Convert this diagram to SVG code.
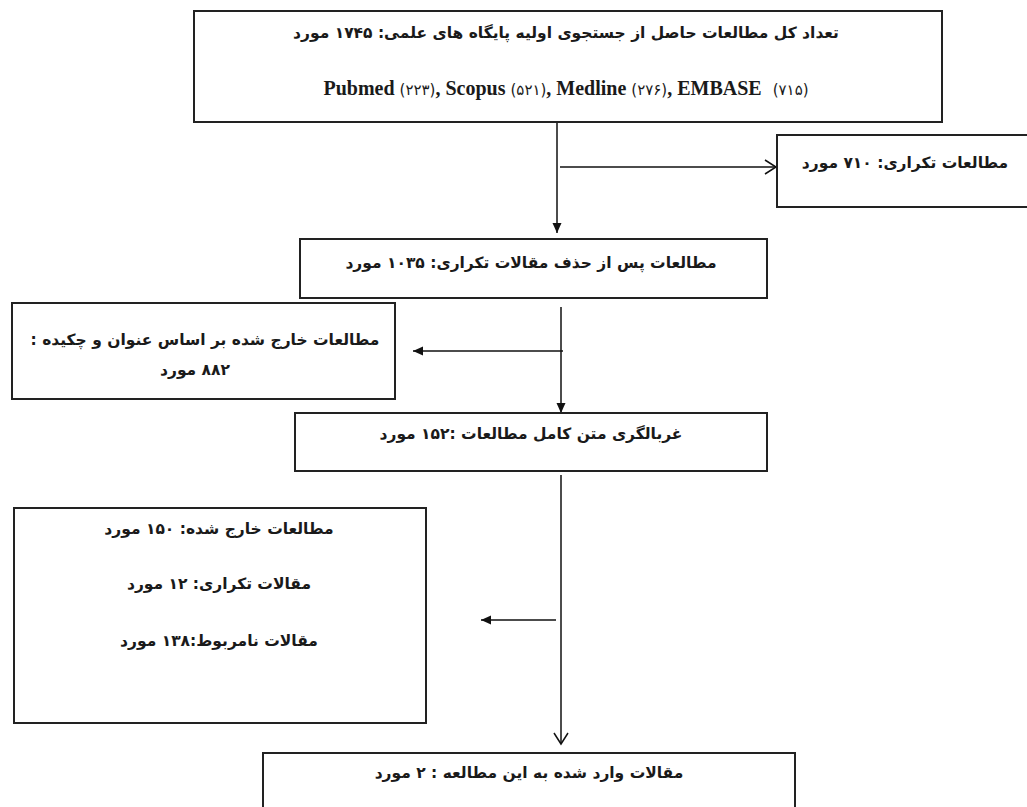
<svg xmlns="http://www.w3.org/2000/svg" width="1027" height="807" viewBox="0 0 1027 807">
<defs>
<style>
.box{fill:#fff;stroke:#222;stroke-width:2}
.fa{font-family:"DejaVu Sans",sans-serif;font-weight:bold;font-size:15.5px;fill:#1a1a1a;text-anchor:middle}
.en{font-family:"Liberation Serif",serif;font-weight:bold;font-size:20px;fill:#1a1a1a;text-anchor:middle}
.dg{font-family:"DejaVu Sans",sans-serif;font-weight:normal;font-size:15px}
.ln{stroke:#111;stroke-width:1.5;fill:none}
</style>
<marker id="fill" markerWidth="10" markerHeight="12" refX="10" refY="5" orient="auto" markerUnits="userSpaceOnUse">
<path d="M0,0.5 L10,5 L0,9.5 Z" fill="#111"/>
</marker>
<marker id="open" markerWidth="14" markerHeight="16" refX="12" refY="8" orient="auto" markerUnits="userSpaceOnUse">
<path d="M1,1 L12,8 L1,15" fill="none" stroke="#111" stroke-width="1.5"/>
</marker>
</defs>
<rect width="1027" height="807" fill="#fff"/>
<g id="connectors">
<line class="ln" x1="557" y1="123" x2="557" y2="233" marker-end="url(#fill)"/>
<line class="ln" x1="560" y1="167" x2="776" y2="167" marker-end="url(#open)"/>
<line class="ln" x1="561" y1="307" x2="561" y2="413" marker-end="url(#fill)"/>
<line class="ln" x1="563" y1="351" x2="413" y2="351" marker-end="url(#fill)"/>
<line class="ln" x1="561" y1="475" x2="561" y2="744" marker-end="url(#open)"/>
<line class="ln" x1="556" y1="620" x2="481" y2="620" marker-end="url(#fill)"/>
</g>
<g id="n1">
<rect class="box" x="194" y="11" width="748" height="111"/>
<text class="fa" x="566" y="38" direction="rtl">تعداد کل مطالعات حاصل از جستجوی اولیه پایگاه های علمی: ۱۷۴۵ مورد</text>
<text class="en" x="566" y="95">Pubmed <tspan class="dg">(۲۲۳)</tspan>, Scopus <tspan class="dg">(۵۲۱)</tspan>, Medline <tspan class="dg">(۲۷۶)</tspan>, EMBASE <tspan class="dg" dx="6">(۷۱۵)</tspan></text>
</g>
<g id="n2">
<rect class="box" x="777" y="135" width="270" height="72"/>
<text class="fa" x="905" y="168" direction="rtl">مطالعات تکراری: ۷۱۰ مورد</text>
</g>
<g id="n3">
<rect class="box" x="300" y="239" width="467" height="59"/>
<text class="fa" x="531" y="268" direction="rtl">مطالعات پس از حذف مقالات تکراری: ۱۰۳۵ مورد</text>
</g>
<g id="n4">
<rect class="box" x="12" y="303" width="383" height="96"/>
<text class="fa" x="205" y="345" direction="rtl">مطالعات خارج شده بر اساس عنوان و چکیده :</text>
<text class="fa" x="195" y="375" direction="rtl">۸۸۲ مورد</text>
</g>
<g id="n5">
<rect class="box" x="295" y="413" width="472" height="58"/>
<text class="fa" x="531" y="439" direction="rtl">غربالگری متن کامل مطالعات :۱۵۲ مورد</text>
</g>
<g id="n6">
<rect class="box" x="14" y="508" width="412" height="215"/>
<text class="fa" x="219" y="534" direction="rtl">مطالعات خارج شده: ۱۵۰ مورد</text>
<text class="fa" x="219" y="589" direction="rtl">مقالات تکراری: ۱۲ مورد</text>
<text class="fa" x="219" y="646" direction="rtl">مقالات نامربوط:۱۳۸ مورد</text>
</g>
<g id="n7">
<rect class="box" x="263" y="753" width="532" height="70"/>
<text class="fa" x="529" y="778" direction="rtl">مقالات وارد شده به این مطالعه : ۲ مورد</text>
</g>
</svg>
